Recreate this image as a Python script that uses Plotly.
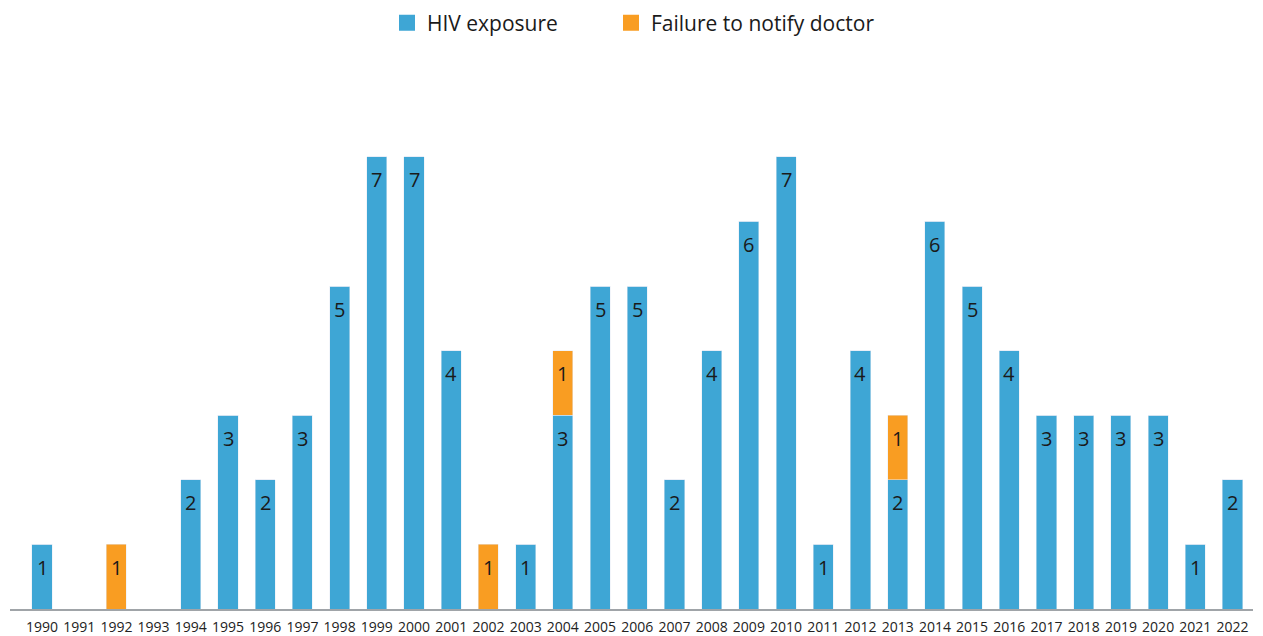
import plotly.graph_objects as go

years = [str(y) for y in range(1990, 2023)]
hiv = [1, 0, 0, 0, 2, 3, 2, 3, 5, 7, 7, 4, 0, 1, 3, 5, 5, 2, 4, 6, 7, 1, 4, 2, 6, 5, 4, 3, 3, 3, 3, 1, 2]
fail = [0, 0, 1, 0, 0, 0, 0, 0, 0, 0, 0, 0, 1, 0, 1, 0, 0, 0, 0, 0, 0, 0, 0, 1, 0, 0, 0, 0, 0, 0, 0, 0, 0]

BLUE = "#3EA6D5"
ORANGE = "#F99D22"
FONT = "Open Sans"

fig = go.Figure()
fig.add_trace(go.Bar(x=years, y=hiv, name="HIV exposure", marker_color=BLUE,
                     showlegend=False, hoverinfo="x+y"))
fig.add_trace(go.Bar(x=years, y=fail, name="Failure to notify doctor", marker_color=ORANGE,
                     showlegend=False, hoverinfo="x+y"))
# legend entries (two legends, placed side by side)
fig.add_trace(go.Scatter(x=[years[0]], y=[None], mode="markers", name="HIV exposure",
                         marker=dict(symbol="square", size=18, color=BLUE), legend="legend"))
fig.add_trace(go.Scatter(x=[years[0]], y=[None], mode="markers", name="Failure to notify doctor",
                         marker=dict(symbol="square", size=18, color=ORANGE), legend="legend2"))

# value labels near the top of each segment
for i, (h, f) in enumerate(zip(hiv, fail)):
    if h:
        fig.add_annotation(x=i, y=h, text=str(h), showarrow=False, yanchor="middle",
                           yshift=-23, font=dict(size=20, color="#1a1a1a", family=FONT))
    if f:
        fig.add_annotation(x=i, y=h + f, text=str(f), showarrow=False, yanchor="middle",
                           yshift=-23, font=dict(size=20, color="#1a1a1a", family=FONT))

leg_common = dict(orientation="h", y=0.996, yref="container", yanchor="top", xref="container",
                  xanchor="left", itemsizing="trace", font=dict(size=21, color="#1a1a1a"))
fig.update_layout(
    barmode="stack",
    bargap=0.46,
    width=1263, height=636,
    margin=dict(l=10, r=10, t=100, b=27, autoexpand=False),
    plot_bgcolor="white", paper_bgcolor="white",
    font=dict(family=FONT, size=14, color="#222"),
    legend=dict(x=387 / 1263, **leg_common),
    legend2=dict(x=611 / 1263, **leg_common),
    showlegend=True,
)
fig.update_xaxes(type="category", range=[-0.86, 32.55], showline=True, linecolor="#a0a4a8", linewidth=2,
                 ticks="", showgrid=False, automargin=False, ticklabelstandoff=4,
                 tickfont=dict(size=14, color="#222"))
fig.update_yaxes(range=[0, 7.88], visible=False, showgrid=False, zeroline=False, automargin=False)

fig.write_html("out.html", config={"displayModeBar": False},
               post_script="document.body.style.margin='0';")
